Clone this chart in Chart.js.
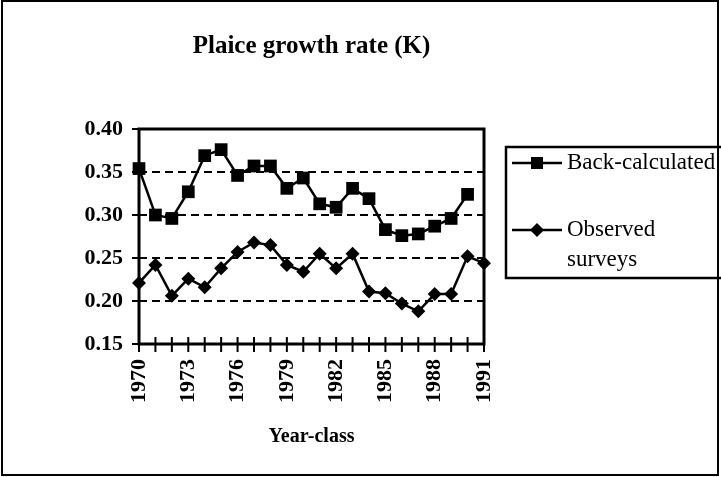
<!DOCTYPE html>
<html lang="en">
<head>
    <meta charset="UTF-8">
    <title>Plaice growth rate (K)</title>
    <style>
        body { margin: 0; background: #fff; }
        #wrap { width: 721px; height: 477px; }
    </style>
</head>
<body>
    <div id="wrap"><canvas id="myChart" width="721" height="477"></canvas></div>
    <script src="https://cdn.jsdelivr.net/npm/chart.js"></script>
    <script>
        const years = ['1970','1971','1972','1973','1974','1975','1976','1977','1978','1979','1980',
                       '1981','1982','1983','1984','1985','1986','1987','1988','1989','1990','1991'];
        const backCalc = [0.354, 0.300, 0.296, 0.327, 0.369, 0.376, 0.346, 0.357, 0.357, 0.331, 0.343,
                          0.313, 0.309, 0.331, 0.319, 0.283, 0.276, 0.278, 0.287, 0.296, 0.324, null];
        const observed = [0.221, 0.242, 0.206, 0.226, 0.216, 0.238, 0.257, 0.268, 0.265, 0.242, 0.234,
                          0.255, 0.238, 0.255, 0.211, 0.209, 0.197, 0.188, 0.208, 0.208, 0.252, 0.244];
        const yTicks = [0.15, 0.20, 0.25, 0.30, 0.35, 0.40];
        const legendLines = [['Back-calculated'], ['Observed', 'surveys']];

        const serif = "'Liberation Serif', 'Times New Roman', serif";

        // frame, crossing tick marks, legend box and outer border
        const framePlugin = {
            id: 'frame',
            beforeDatasetsDraw(chart) {
                const ctx = chart.ctx;
                const a = chart.chartArea;
                const xs = chart.scales.x, ys = chart.scales.y;
                ctx.save();
                ctx.strokeStyle = '#000';
                ctx.lineWidth = 3;
                ctx.strokeRect(a.left, a.top, a.right - a.left, a.bottom - a.top);
                ctx.lineWidth = 2;
                ctx.beginPath();
                yTicks.forEach(v => {
                    const p = ys.getPixelForValue(v);
                    ctx.moveTo(a.left - 7, p); ctx.lineTo(a.left + 7, p);
                });
                years.forEach((y, i) => {
                    const p = xs.getPixelForValue(i);
                    ctx.moveTo(p, a.bottom - 7); ctx.lineTo(p, a.bottom + 8);
                });
                ctx.stroke();
                ctx.restore();
            },
            afterDraw(chart) {
                const ctx = chart.ctx;
                ctx.save();
                ctx.strokeStyle = '#000';
                ctx.lineWidth = 2;
                ctx.strokeRect(2, 1, 716, 474);
                ctx.lineWidth = 2.5;
                ctx.strokeRect(506, 147, 230, 131);

                const rows = [163, 230];
                chart.data.datasets.forEach((ds, i) => {
                    const y = rows[i];
                    ctx.lineWidth = 2.5;
                    ctx.beginPath();
                    ctx.moveTo(512, y); ctx.lineTo(562, y);
                    ctx.stroke();
                    ctx.fillStyle = '#000';
                    ctx.beginPath();
                    if (ds.pointStyle === 'rect') {
                        ctx.rect(537 - 6, y - 6, 12, 12);
                    } else {
                        ctx.moveTo(537 - 7, y); ctx.lineTo(537, y - 7);
                        ctx.lineTo(537 + 7, y); ctx.lineTo(537, y + 7);
                        ctx.closePath();
                    }
                    ctx.fill();
                    ctx.font = '23px ' + serif;
                    ctx.textBaseline = 'middle';
                    legendLines[i].forEach((t, k) => ctx.fillText(t, 567, y + k * 30));
                });
                ctx.restore();
            }
        };

        const canvas = document.getElementById('myChart');
        new Chart(canvas, {
            type: 'line',
            data: {
                labels: years,
                datasets: [{
                    label: 'Back-calculated',
                    data: backCalc,
                    borderColor: '#000',
                    backgroundColor: '#000',
                    borderWidth: 2.5,
                    pointStyle: 'rect',
                    pointRadius: 9,
                    pointBorderWidth: 0,
                    tension: 0
                }, {
                    label: 'Observed surveys',
                    data: observed,
                    borderColor: '#000',
                    backgroundColor: '#000',
                    borderWidth: 2.5,
                    pointStyle: 'rectRot',
                    pointRadius: 7,
                    pointBorderWidth: 0,
                    tension: 0
                }]
            },
            options: {
                responsive: false,
                animation: false,
                layout: { padding: { left: 0, right: 237, top: 0, bottom: 0 } },
                plugins: {
                    legend: { display: false },
                    tooltip: { enabled: false },
                    title: {
                        display: true,
                        text: 'Plaice growth rate (K)',
                        fullSize: false,
                        color: '#000',
                        font: { family: serif, size: 25, weight: 'bold' },
                        padding: { top: 32, bottom: 67 }
                    }
                },
                scales: {
                    x: {
                        type: 'category',
                        offset: false,
                        grid: { display: false, drawTicks: false },
                        border: { display: false },
                        ticks: {
                            autoSkip: false,
                            maxRotation: 90,
                            minRotation: 90,
                            padding: 15,
                            color: '#000',
                            font: { family: serif, size: 22, weight: 'bold' },
                            callback: function(v, i) { return i % 3 === 0 ? years[i] : ''; }
                        },
                        title: {
                            display: true,
                            text: 'Year-class',
                            color: '#000',
                            font: { family: serif, size: 20, weight: 'bold' },
                            padding: { top: 4, bottom: 28 }
                        },
                        afterFit: s => { s.height = 133; }
                    },
                    y: {
                        min: 0.15,
                        max: 0.40,
                        afterBuildTicks: s => { s.ticks = yTicks.map(v => ({ value: v })); },
                        grid: {
                            drawTicks: false,
                            lineWidth: 2,
                            color: c => (c.tick && c.tick.value > 0.16 && c.tick.value < 0.39) ? '#000' : 'rgba(0,0,0,0)'
                        },
                        border: { display: false, dash: [8, 5] },
                        ticks: {
                            padding: 16,
                            color: '#000',
                            font: { family: serif, size: 22, weight: 'bold' },
                            callback: v => Number(v).toFixed(2)
                        },
                        afterFit: s => { s.width = 139; }
                    }
                }
            },
            plugins: [framePlugin]
        });
    </script>
</body>
</html>
